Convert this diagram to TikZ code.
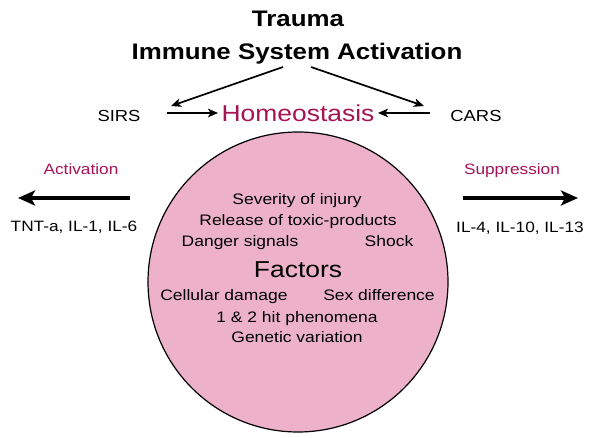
\documentclass[tikz,border=0pt]{standalone}
\usepackage{fontspec}
\setmainfont[FakeStretch=1.15]{Liberation Sans}
\usetikzlibrary{arrows.meta}

\definecolor{discpink}{RGB}{237,178,202}
\definecolor{homeored}{RGB}{165,20,85}

\tikzset{
  headline/.style={anchor=base, font=\fontsize{22.5pt}{26pt}\selectfont\bfseries},
  bigword/.style={anchor=base, font=\fontsize{23pt}{27pt}\selectfont},
  factor/.style={anchor=base, font=\fontsize{15.2pt}{18pt}\selectfont},
  sideword/.style={anchor=base, font=\fontsize{15pt}{18pt}\selectfont},
  thin arrow/.style={line width=1.7pt, -{Stealth[length=10pt, width=8.5pt, inset=2.5pt]}},
  fat arrow/.style={line width=4.5pt, -{Stealth[length=17pt, width=15pt, inset=4pt]}}
}

\begin{document}
\begin{tikzpicture}[x=1pt, y=-1pt]
\useasboundingbox (0,0) rectangle (595,438);

% the disc of factors
\node[circle, draw, line width=1.2pt, fill=discpink, minimum size=300pt, inner sep=0pt] (disc) at (298,282) {};

% top
\node[headline] (trauma) at (298,27) {Trauma};
\node[headline] (immune) at (297,60) {Immune System Activation};

\node[sideword, font=\fontsize{16pt}{19pt}\selectfont] (sirs) at (119,122) {SIRS};
\node[bigword, text=homeored] (homeo) at (298,122) {Homeostasis};
\node[sideword, font=\fontsize{16pt}{19pt}\selectfont] (cars) at (476,122) {CARS};

\coordinate (split l) at (283,67);
\coordinate (split r) at (311,67);
\coordinate (sirs end) at (171,106);
\coordinate (cars end) at (424,106);
\draw[thin arrow] (split l) -- (sirs end);
\draw[thin arrow] (split r) -- (cars end);
\draw[thin arrow] (sirs.east |- 0,113) ++(23,0) coordinate (sirs out) -- (homeo.west |- 0,113);
\draw[thin arrow] (cars.west |- 0,113) ++(-17,0) coordinate (cars out) -- (homeo.east |- 0,113);

% left and right sides
\node[sideword, text=homeored] (act) at (81,175) {Activation};
\node[sideword] (pro) at (74,232) {TNT-a, IL-1, IL-6};
\coordinate (act from) at (130,198);
\coordinate (act to) at (18,198);
\draw[fat arrow] (act from) -- (act to);

\node[sideword, text=homeored] (sup) at (512,175) {Suppression};
\node[sideword] (anti) at (520,233) {IL-4, IL-10, IL-13};
\coordinate (sup from) at (463,198);
\coordinate (sup to) at (578,198);
\draw[fat arrow] (sup from) -- (sup to);

% inside the disc
\node[factor] (sev) at (297,205) {Severity of injury};
\node[factor] (rel) at (298,226) {Release of toxic-products};
\node[factor] (dang) at (240,247) {Danger signals};
\node[factor] (shock) at (389,247) {Shock};
\node[bigword] (fac) at (298,278) {Factors};
\node[factor] (cell) at (224,301) {Cellular damage};
\node[factor] (sex) at (379,301) {Sex difference};
\node[factor] (hit) at (297,323) {1 \& 2 hit phenomena};
\node[factor] (gen) at (297,343) {Genetic variation};
\end{tikzpicture}
\end{document}
